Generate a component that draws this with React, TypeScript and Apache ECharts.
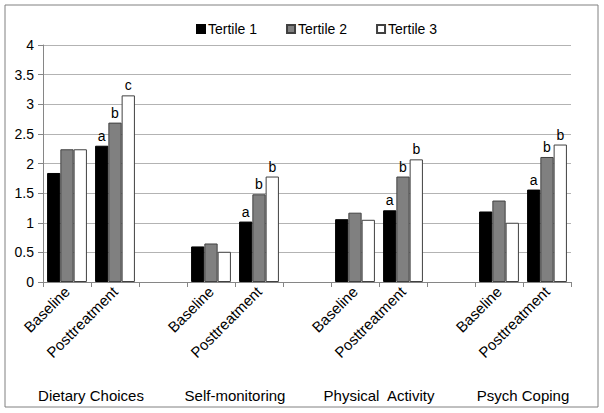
import React, { useEffect, useRef } from "react";
import * as echarts from "echarts";

const categories = [
  "Baseline", "Posttreatment", "",
  "Baseline", "Posttreatment", "",
  "Baseline", "Posttreatment", "",
  "Baseline", "Posttreatment",
];
const groupNames = ["Dietary Choices", "Self-monitoring", "Physical  Activity", "Psych Coping"];
const seriesNames = ["Tertile 1", "Tertile 2", "Tertile 3"];
const tertile1 = [1.84, 2.3, null, 0.6, 1.02, null, 1.06, 1.21, null, 1.19, 1.56];
const tertile2 = [2.24, 2.69, null, 0.65, 1.48, null, 1.17, 1.78, null, 1.375, 2.11];
const tertile3 = [2.24, 3.15, null, 0.51, 1.78, null, 1.05, 2.07, null, 1.0, 2.32];
const letters1 = ["", "a", "", "", "a", "", "", "a", "", "", "a"];
const letters2 = ["", "b", "", "", "b", "", "", "b", "", "", "b"];
const letters3 = ["", "c", "", "", "b", "", "", "b", "", "", "b"];
const yTicks = [0, 0.5, 1, 1.5, 2, 2.5, 3, 3.5, 4];

const FONT = "Liberation Sans, Arial, sans-serif";

export default function App() {
  const ref = useRef<HTMLDivElement>(null);
  useEffect(() => {
    const chart = echarts.init(ref.current!, null, { renderer: "svg" });
    const mk = (name: string, data: any[], letters: string[], color: string, border: string) => ({
      name,
      type: "bar",
      data,
      barGap: "0%",
      barCategoryGap: "17%",
      itemStyle: { color, borderColor: border, borderWidth: 1 },
      label: {
        show: true,
        position: "top",
        distance: 3,
        color: "#000",
        fontFamily: FONT,
        fontSize: 14,
        formatter: (p: any) => letters[p.dataIndex] || "",
      },
    });
    chart.setOption({
      animation: false,
      textStyle: { fontFamily: FONT },
      legend: {
        data: seriesNames.map((n) => ({ name: n, icon: "rect" })),
        top: 17,
        left: 191,
        itemWidth: 8,
        itemHeight: 8,
        itemGap: 29,
        textStyle: { fontFamily: FONT, fontSize: 14, color: "#000", padding: [0, 0, 0, -2] },
      },
      graphic: [
        {
          type: "rect",
          shape: { x: 5, y: 5, width: 593, height: 402 },
          style: { fill: "none", stroke: "#808080", lineWidth: 1 },
          silent: true,
        },
      ],
      grid: { left: 43, right: 33, top: 45, bottom: 131, containLabel: false },
      xAxis: [
        {
          type: "category",
          data: categories,
          axisLine: { show: true, lineStyle: { color: "#868686" } },
          axisTick: { show: true, length: 5, lineStyle: { color: "#868686" } },
          axisLabel: {
            rotate: 45,
            interval: 0,
            margin: 7,
            color: "#000",
            fontFamily: FONT,
            fontSize: 15,
          },
        },
        {
          type: "value",
          position: "bottom",
          min: 0,
          max: 11,
          interval: 1,
          offset: 106,
          axisLine: { show: false },
          axisTick: { show: false },
          splitLine: { show: false },
          axisLabel: {
            show: true,
            margin: 0,
            color: "#000",
            fontFamily: FONT,
            fontSize: 15,
            formatter: (v: number) => {
              const idx = [1, 4, 7, 10].indexOf(Math.round(v));
              return idx >= 0 ? groupNames[idx] : "";
            },
          },
        },
      ],
      yAxis: {
        type: "value",
        min: 0,
        max: 4,
        interval: 0.5,
        axisLine: { show: true, lineStyle: { color: "#868686" } },
        axisTick: { show: true, length: 5, lineStyle: { color: "#868686" } },
        splitLine: { show: true, lineStyle: { color: "#b3b3b3" } },
        axisLabel: {
          color: "#000",
          fontFamily: FONT,
          fontSize: 14,
          margin: 9,
          formatter: (v: number) => (yTicks.includes(v) ? String(v) : ""),
        },
      },
      series: [
        mk(seriesNames[0], tertile1, letters1, "#000000", "#000000"),
        mk(seriesNames[1], tertile2, letters2, "#808080", "#404040"),
        mk(seriesNames[2], tertile3, letters3, "#ffffff", "#404040"),
      ],
    });
    return () => chart.dispose();
  }, []);
  return (
    <div
      ref={ref}
      style={{ position: "fixed", left: 0, top: 0, width: 604, height: 413, background: "#fff" }}
    />
  );
}
